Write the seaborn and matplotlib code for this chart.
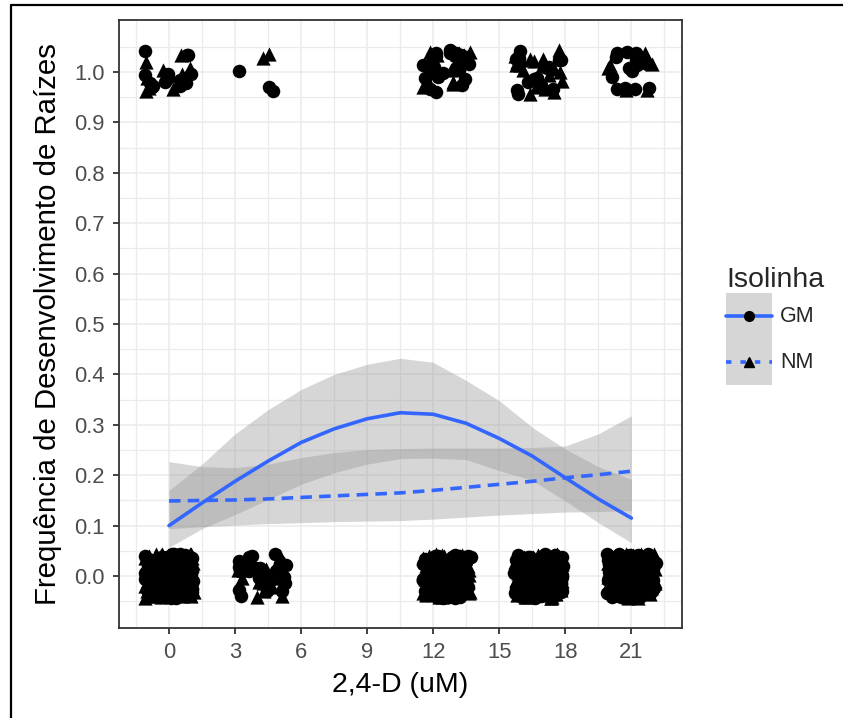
import numpy as np
import pandas as pd
import matplotlib
matplotlib.use("Agg")
import matplotlib.pyplot as plt
import seaborn as sns
from matplotlib.lines import Line2D
from matplotlib.patches import Patch
from matplotlib.legend_handler import HandlerTuple, HandlerLine2D
from matplotlib.ticker import FixedLocator

# ---------------- data ----------------
doses = [0, 4.2, 12.6, 16.8, 21]
gm_rooted = [15, 3, 22, 14, 15]
gm_not = [140, 24, 95, 105, 100]
nm_rooted = [9, 2, 14, 20, 7]
nm_not = [120, 22, 90, 105, 95]

curve_x = [0, 1.5, 3, 4.5, 6, 7.5, 9, 10.5, 12, 13.5, 15, 16.5, 18, 19.5, 21]
gm_fit = [0.100, 0.145, 0.188, 0.228, 0.265, 0.292, 0.312, 0.324, 0.321, 0.303, 0.273, 0.238, 0.195, 0.153, 0.115]
gm_hi = [0.170, 0.222, 0.282, 0.330, 0.370, 0.400, 0.420, 0.432, 0.424, 0.388, 0.348, 0.295, 0.252, 0.217, 0.192]
gm_lo = [0.057, 0.094, 0.122, 0.152, 0.182, 0.205, 0.222, 0.233, 0.234, 0.231, 0.209, 0.190, 0.149, 0.106, 0.066]
nm_fit = [0.149, 0.150, 0.151, 0.153, 0.156, 0.159, 0.162, 0.165, 0.170, 0.176, 0.182, 0.188, 0.195, 0.201, 0.208]
nm_hi = [0.227, 0.217, 0.215, 0.222, 0.235, 0.245, 0.251, 0.253, 0.254, 0.254, 0.254, 0.255, 0.258, 0.282, 0.318]
nm_lo = [0.094, 0.098, 0.101, 0.104, 0.106, 0.108, 0.109, 0.110, 0.113, 0.117, 0.121, 0.124, 0.127, 0.128, 0.130]

x_ticks = [0, 3, 6, 9, 12, 15, 18, 21]
y_ticks = [0.0, 0.1, 0.2, 0.3, 0.4, 0.5, 0.6, 0.7, 0.8, 0.9, 1.0]

# ---------------- build observations ----------------
rows = []
for iso, r_list, n_list in (("GM", gm_rooted, gm_not), ("NM", nm_rooted, nm_not)):
    for d, r, n in zip(doses, r_list, n_list):
        rows += [(iso, d, 1)] * r + [(iso, d, 0)] * n
obs = pd.DataFrame(rows, columns=["Isolinha", "dose", "raiz"])

# ---------------- style ----------------
sns.set_theme(style="white")
plt.rcParams["font.family"] = ["Liberation Sans", "DejaVu Sans"]

W, H = 843, 718
fig = plt.figure(figsize=(W / 100, H / 100), dpi=100)
ax = fig.add_axes([119 / W, 1 - 628 / H, (682 - 119) / W, (628 - 20) / H])

BLUE = "#3366FF"
FILL = "#999999"

np.random.seed(11)
for iso, mk in (("GM", "o"), ("NM", "^")):
    sub = obs[obs["Isolinha"] == iso]
    sns.regplot(data=sub, x="dose", y="raiz", fit_reg=False,
                x_jitter=1.12, y_jitter=0.044, marker=mk, ax=ax,
                scatter_kws=dict(color="black", s=95 if mk == "o" else 105,
                                 alpha=1, linewidths=0, zorder=3))

ax.fill_between(curve_x, gm_lo, gm_hi, color=FILL, alpha=0.4, lw=0, zorder=4)
ax.fill_between(curve_x, nm_lo, nm_hi, color=FILL, alpha=0.4, lw=0, zorder=4)
sns.lineplot(x=curve_x, y=gm_fit, color=BLUE, lw=2.6, ax=ax, zorder=5)
sns.lineplot(x=curve_x, y=nm_fit, color=BLUE, lw=2.6, ax=ax, zorder=5,
             linestyle=(0, (3.2, 2.0)))

ax.set_xlim(-2.27, 23.3)
ax.set_ylim(-0.103, 1.103)
ax.xaxis.set_major_locator(FixedLocator(x_ticks))
ax.xaxis.set_minor_locator(FixedLocator([-1.5 + 3 * i for i in range(9)]))
ax.yaxis.set_major_locator(FixedLocator(y_ticks))
ax.yaxis.set_minor_locator(FixedLocator([-0.05 + 0.1 * i for i in range(12)]))
ax.set_xticklabels([str(t) for t in x_ticks])
ax.set_yticklabels([f"{t:.1f}" for t in y_ticks])

ax.grid(which="major", color="#EBEBEB", lw=1.1)
ax.grid(which="minor", color="#EBEBEB", lw=0.9)
ax.set_axisbelow(True)
for sp in ax.spines.values():
    sp.set_color("#333333")
    sp.set_linewidth(1.3)
    sp.set_visible(True)
ax.tick_params(which="major", length=4.3, width=1.3, color="#333333",
               labelsize=15.8, labelcolor="#4D4D4D", pad=6,
               bottom=True, left=True)
ax.tick_params(which="minor", length=0)

ax.set_xlabel("2,4-D (uM)", fontsize=20.5, color="black", labelpad=6)
ax.set_ylabel("Frequência de Desenvolvimento de Raízes", fontsize=21.2,
              color="black", labelpad=9)


# legend: key line centred on the grey key box
class KeyLine(HandlerLine2D):
    def create_artists(self, legend, orig_handle, xdescent, ydescent,
                       width, height, fontsize, trans):
        arts = super().create_artists(legend, orig_handle, xdescent, ydescent,
                                      width, height, fontsize, trans)
        yc = height / 2.0 - ydescent
        for a in arts:
            a.set_ydata([yc] * len(a.get_ydata()))
        return arts


key_bg = "#D6D6D6"
handles = [
    (Patch(facecolor=key_bg, edgecolor="none"),
     Line2D([], [], color=BLUE, lw=2.6, ls="-", marker="o",
            markerfacecolor="black", markeredgecolor="black", markersize=7)),
    (Patch(facecolor=key_bg, edgecolor="none"),
     Line2D([], [], color=BLUE, lw=2.6, ls=(0, (1.5, 2.5)), marker="^",
            markerfacecolor="black", markeredgecolor="black", markersize=7)),
]
leg = fig.legend(handles, ["GM", "NM"], title="Isolinha",
                 handler_map={tuple: HandlerTuple(ndivide=1, pad=0),
                              Line2D: KeyLine()},
                 loc="upper left", bbox_to_anchor=(726 / W, 1 - 267 / H),
                 frameon=False, fontsize=15.5, title_fontsize=20.5,
                 handlelength=2.15, handleheight=2.9, labelspacing=0,
                 handletextpad=0.35, borderpad=0, borderaxespad=0,
                 numpoints=1, alignment="left")

# outer figure border (cropped screenshot frame)
fig.add_artist(Line2D([10.5 / W, 10.5 / W], [0, 1 - 4.5 / H],
                      transform=fig.transFigure, color="black", lw=1.6))
fig.add_artist(Line2D([10.5 / W, 1], [1 - 4.5 / H, 1 - 4.5 / H],
                      transform=fig.transFigure, color="black", lw=1.6))

fig.savefig("out.png", dpi=100)
